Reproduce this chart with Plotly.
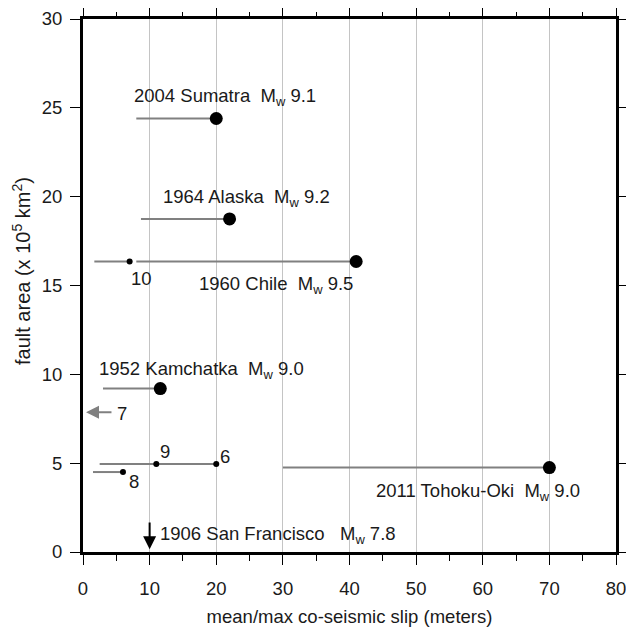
import plotly.graph_objects as go

# Great earthquakes: fault area vs. mean/max co-seismic slip
events = ["2004 Sumatra", "1964 Alaska", "1960 Chile", "1952 Kamchatka", "2011 Tohoku-Oki"]
mw = ["9.1", "9.2", "9.5", "9.0", "9.0"]
area = [24.4, 18.75, 16.35, 9.2, 4.75]          # x 10^5 km^2
slip_max = [20.0, 22.0, 41.0, 11.6, 70.0]       # m (dot)
slip_min = [8.0, 8.7, 8.0, 3.0, 30.0]           # m (line start)
label_x = [7.35, 11.7, 17.1, 2.1, 43.7]
label_y = [25.6, 19.9, 15.03, 10.24, 3.38]

# Other numbered estimates
num_labels = ["10", "9", "6", "8"]
num_slip = [7.0, 11.0, 20.0, 6.0]
num_area = [16.35, 4.95, 4.95, 4.5]
num_label_x = [6.9, 11.26, 20.3, 6.55]
num_label_y = [15.42, 5.65, 5.36, 3.96]
# line segments for numbered estimates (start, end, area)
seg_start = [1.7, 2.5, 1.5]
seg_end = [7.0, 20.0, 6.0]
seg_area = [16.35, 4.95, 4.5]

# Arrow estimate "7" (upper bound, off left)
arrow7_from = (4.5, 7.86)
arrow7_to = (0.45, 7.86)
# 1906 San Francisco (small area)
sf_slip = 10.0
sf_from_area = 1.75
sf_to_area = 0.15
sf_label = ("1906 San Francisco", "7.8")
sf_label_pos = (11.3, 0.96)

FONT = "Liberation Sans, Arial, sans-serif"
FS = 18.5
TXT = "#1a1a1a"
GRAY = "#808080"

fig = go.Figure()

# main event ranges
xs, ys = [], []
for a, s0, s1 in zip(area, slip_min, slip_max):
    xs += [s0, s1, None]
    ys += [a, a, None]
for a, s0, s1 in zip(seg_area, seg_start, seg_end):
    xs += [s0, s1, None]
    ys += [a, a, None]
fig.add_trace(go.Scatter(x=xs, y=ys, mode="lines",
                         line=dict(color=GRAY, width=2), hoverinfo="skip"))

fig.add_trace(go.Scatter(x=slip_max, y=area, mode="markers",
                         marker=dict(color="black", size=13), hoverinfo="skip"))
fig.add_trace(go.Scatter(x=num_slip, y=num_area, mode="markers",
                         marker=dict(color="black", size=6), hoverinfo="skip"))
# invisible trace to activate the top/right tick axes
fig.add_trace(go.Scatter(x=slip_max, y=area, mode="markers", xaxis="x2", yaxis="y2",
                         marker=dict(opacity=0), hoverinfo="skip"))

ann = []
for e, m, lx, ly in zip(events, mw, label_x, label_y):
    ann.append(dict(x=lx, y=ly, xref="x", yref="y", xanchor="left", yanchor="middle",
                    text=f"{e}  M<sub>w</sub> {m}", showarrow=False,
                    font=dict(family=FONT, size=FS, color=TXT)))
for t, lx, ly in zip(num_labels, num_label_x, num_label_y):
    ann.append(dict(x=lx, y=ly, xref="x", yref="y", xanchor="left", yanchor="middle",
                    text=t, showarrow=False, font=dict(family=FONT, size=FS, color=TXT)))
ann.append(dict(x=4.8, y=7.77, xref="x", yref="y", xanchor="left", yanchor="middle",
                text="7", showarrow=False, font=dict(family=FONT, size=FS, color=TXT)))
ann.append(dict(x=arrow7_to[0], y=arrow7_to[1], ax=arrow7_from[0], ay=arrow7_from[1],
                xref="x", yref="y", axref="x", ayref="y", text="", showarrow=True,
                arrowhead=2, arrowsize=1.3, arrowwidth=2, arrowcolor=GRAY))
ann.append(dict(x=sf_slip, y=sf_to_area, ax=sf_slip, ay=sf_from_area,
                xref="x", yref="y", axref="x", ayref="y", text="", showarrow=True,
                arrowhead=2, arrowsize=1.3, arrowwidth=2, arrowcolor="black"))
ann.append(dict(x=sf_label_pos[0], y=sf_label_pos[1], xref="x", yref="y",
                xanchor="left", yanchor="middle",
                text=f"{sf_label[0]}   M<sub>w</sub> {sf_label[1]}", showarrow=False,
                font=dict(family=FONT, size=FS, color=TXT)))

W, H = 626, 629
ml, mr, mt, mb = 83, 10, 19, 77
pw, ph = W - ml - mr, H - mt - mb
# y title (pixel centre 21, 271)
ann.append(dict(x=(21 - ml) / pw, y=(H - mb - 271) / ph, xref="paper", yref="paper",
                text="fault area (x 10<sup>5</sup> km<sup>2</sup>)",
                textangle=-90, showarrow=False, xanchor="center", yanchor="middle",
                font=dict(family=FONT, size=20, color=TXT)))

fig.update_layout(
    width=W, height=H, margin=dict(l=ml, r=mr, t=mt, b=mb, autoexpand=False),
    paper_bgcolor="white", plot_bgcolor="white", showlegend=False,
    font=dict(family=FONT, size=FS, color=TXT),
    annotations=ann,
    xaxis2=dict(overlaying="x", side="top", anchor="y2", range=[0, 80], dtick=10, tick0=0,
                showgrid=False, zeroline=False, showline=False, showticklabels=False,
                ticks="outside", ticklen=10, tickwidth=1, tickcolor="black", automargin=False,
                minor=dict(dtick=5, ticks="outside", ticklen=6, tickcolor="black", showgrid=False)),
    yaxis2=dict(overlaying="y", side="right", anchor="x2", range=[0, 30], dtick=5, tick0=0,
                showgrid=False, zeroline=False, showline=False, showticklabels=False,
                ticks="outside", ticklen=10, tickwidth=1, tickcolor="black", automargin=False),
)
fig.update_layout(
    xaxis=dict(range=[0, 80], dtick=10, tick0=0, showgrid=True, gridcolor="#c4c4c4", gridwidth=1,
               zeroline=False, showline=True, linecolor="black", linewidth=3, mirror=True,
               ticks="outside", ticklen=10, tickwidth=1, tickcolor="black", automargin=False,
               ticklabeloverflow="allow", ticklabelstandoff=8,
               minor=dict(dtick=5, ticks="outside", ticklen=6, tickcolor="black", showgrid=False),
               tickfont=dict(family=FONT, size=FS, color=TXT),
               title=dict(text="mean/max co-seismic slip (meters)", standoff=12,
                          font=dict(family=FONT, size=FS, color=TXT))),
    yaxis=dict(range=[0, 30], dtick=5, tick0=0, showgrid=False, zeroline=False,
               showline=True, linecolor="black", linewidth=3, mirror=True, automargin=False,
               ticks="outside", ticklen=10, tickwidth=1, tickcolor="black",
               ticklabelstandoff=4, ticklabeloverflow="allow",
               tickfont=dict(family=FONT, size=FS, color=TXT)),
)

fig.write_html("out.html", config={"displayModeBar": False},
               post_script="document.body.style.margin='0';document.body.style.overflow='hidden';")
